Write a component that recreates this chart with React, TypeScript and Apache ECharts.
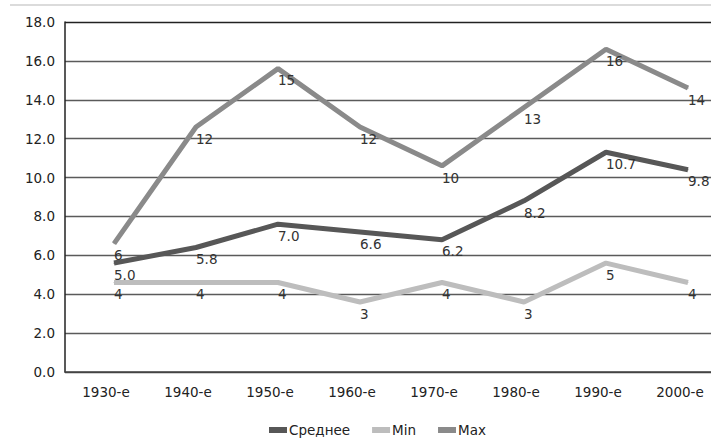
import React, { useEffect, useRef } from "react";
import * as echarts from "echarts";

const categories = ["1930-е", "1940-е", "1950-е", "1960-е", "1970-е", "1980-е", "1990-е", "2000-е"];
const avgValues = [5.0, 5.8, 7.0, 6.6, 6.2, 8.2, 10.7, 9.8];
const minValues = [4, 4, 4, 3, 4, 3, 5, 4];
const maxValues = [6, 12, 15, 12, 10, 13, 16, 14];
const seriesNames = ["Среднее", "Min", "Max"];
const seriesColors = ["#575757", "#bdbdbd", "#8a8a8a"];

const FONT = "DejaVu Sans";
const FS = 13.5;

export default function App() {
  const ref = useRef<HTMLDivElement>(null);
  useEffect(() => {
    const chart = echarts.init(ref.current!, undefined, { renderer: "svg" });
    const shiftY = 11.7;
    const mkSeries = (name: string, data: number[], color: string, fmt: (v: number) => string) => ({
      name,
      type: "line",
      xAxisIndex: 1,
      yAxisIndex: 1,
      data,
      symbol: "circle",
      symbolSize: 1,
      showSymbol: true,
      itemStyle: { color },
      lineStyle: { color, width: 5 },
      label: {
        show: true,
        position: "inside",
        align: "left",
        verticalAlign: "middle",
        offset: [0, shiftY],
        color: "#333",
        fontFamily: FONT,
        fontSize: FS,
        formatter: (p: any) => fmt(p.value),
      },
      z: 3,
    });
    const gridColors = ["#444", "#5a5a5a", "#5a5a5a", "#5a5a5a", "#5a5a5a", "#5a5a5a", "#5a5a5a", "#5a5a5a", "#5a5a5a", "#222"];
    chart.setOption({
      animation: false,
      backgroundColor: "#fff",
      textStyle: { fontFamily: FONT },
      grid: [
        { left: 65, right: 9, top: 22, bottom: 75 },
        { left: 73, right: 1, top: 22 - shiftY, bottom: 75 + shiftY },
      ],
      xAxis: [
        {
          type: "category",
          gridIndex: 0,
          data: categories,
          boundaryGap: true,
          axisLine: { show: true, lineStyle: { color: "#444", width: 1.5 } },
          axisTick: { show: false },
          axisLabel: { color: "#222", fontFamily: FONT, fontSize: FS, margin: 13 },
        },
        {
          type: "category",
          gridIndex: 1,
          data: categories,
          boundaryGap: true,
          show: false,
        },
      ],
      yAxis: [
        {
          type: "value",
          gridIndex: 0,
          min: 0,
          max: 18,
          interval: 2,
          axisLine: { show: true, lineStyle: { color: "#222", width: 1.5 } },
          axisTick: { show: false },
          axisLabel: {
            color: "#222",
            fontFamily: FONT,
            fontSize: FS,
            margin: 10,
            formatter: (v: number) => v.toFixed(1),
          },
          splitLine: { show: true, lineStyle: { color: gridColors, width: 1.3 } },
        },
        {
          type: "value",
          gridIndex: 1,
          min: 0,
          max: 18,
          interval: 2,
          show: false,
          splitLine: { show: false },
        },
      ],
      legend: {
        left: 269,
        top: 423,
        padding: 0,
        itemWidth: 18,
        itemHeight: 6,
        itemGap: 22,
        icon: "rect",
        textStyle: { color: "#222", fontFamily: FONT, fontSize: FS, padding: [0, 0, 0, -3] },
        data: seriesNames.map((n, i) => ({ name: n, itemStyle: { color: seriesColors[i] } })),
      },
      graphic: [
        {
          type: "line",
          shape: { x1: 10, y1: 5, x2: 730, y2: 5 },
          style: { stroke: "#cfcfcf", lineWidth: 1.5 },
        },
      ],
      series: [
        mkSeries(seriesNames[0], avgValues, seriesColors[0], (v) => v.toFixed(1)),
        mkSeries(seriesNames[1], minValues, seriesColors[1], (v) => String(Math.round(v))),
        mkSeries(seriesNames[2], maxValues, seriesColors[2], (v) => String(Math.round(v))),
      ],
    });
    return () => chart.dispose();
  }, []);
  return (
    <div style={{ position: "fixed", left: 0, top: 0, width: 711, height: 447, overflow: "hidden", background: "#fff" }}>
      <div ref={ref} style={{ width: 730, height: 447 }} />
    </div>
  );
}
